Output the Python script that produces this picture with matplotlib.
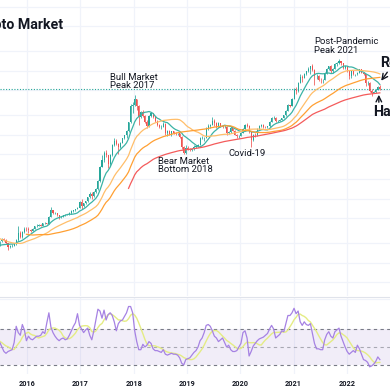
import numpy as np
import pandas as pd
import matplotlib
matplotlib.use("Agg")
import matplotlib.pyplot as plt
import matplotlib.dates as mdates
from matplotlib.ticker import NullLocator

plt.rcParams['font.family'] = ['Roboto', 'DejaVu Sans']

# ---------------- data: total crypto market cap, 2-week candles ($B) ----------------
START = '2014-02-03'
FIRST_OPEN = 10.5

close_2014 = [9.0, 9.2, 8.6, 6.5, 6.5, 6.2, 6.3, 8.3, 9.2, 8.4, 8.9, 8.8, 8.3, 6.9, 6.9, 6.8, 5.6, 5.7, 5.2, 5.4, 5.5, 5.5, 4.9, 4.1]
high_2014 = [10.8, 9.6, 9.4, 8.7, 6.9, 7.2, 6.6, 8.5, 9.5, 9.4, 9.1, 9.1, 8.8, 8.4, 7.2, 7.1, 6.9, 5.9, 5.8, 5.6, 6.4, 5.8, 5.6, 5.0]
low_2014 = [8.6, 7.6, 8.3, 6.3, 5.2, 5.9, 6.0, 6.2, 8.2, 8.2, 8.3, 8.6, 8.2, 6.6, 6.3, 6.6, 5.4, 4.9, 5.1, 5.0, 5.3, 5.4, 4.8, 4.0]

close_2015 = [3.2, 3.6, 3.5, 3.9, 4.2, 3.7, 3.4, 3.3, 3.6, 3.6, 3.5, 3.7, 4.3, 4.6, 4.5, 4.0, 3.5, 3.6, 3.7, 3.9, 4.5, 5.8, 5.1, 6.1, 6.8, 6.7]
high_2015 = [4.2, 3.8, 3.8, 4.0, 4.4, 4.3, 3.8, 3.6, 3.7, 3.8, 3.7, 3.8, 4.4, 4.8, 4.8, 4.6, 4.1, 3.8, 3.9, 4.0, 4.6, 7.6, 6.3, 6.2, 7.1, 7.2]
low_2015 = [2.6, 3.0, 3.3, 3.4, 3.8, 3.6, 3.3, 3.2, 3.2, 3.5, 3.4, 3.4, 3.7, 4.2, 4.3, 3.9, 3.2, 3.4, 3.5, 3.7, 3.8, 4.4, 4.8, 4.9, 5.9, 6.3]

close_2016 = [6.4, 6.3, 6.8, 7.4, 7.6, 7.7, 7.6, 8.3, 8.3, 8.1, 10.5, 13.2, 12.0, 12.0, 11.0, 10.3, 10.5, 11.0, 11.1, 11.3, 11.8, 12.8, 13.1, 13.7, 14.3, 18.0]
high_2016 = [7.3, 6.8, 6.9, 7.6, 8.0, 8.1, 7.9, 8.4, 8.6, 8.4, 10.8, 14.8, 13.4, 12.4, 12.1, 11.2, 10.7, 11.2, 11.3, 11.4, 12.2, 13.4, 13.5, 13.8, 14.6, 18.4]
low_2016 = [5.9, 6.0, 6.2, 6.7, 7.2, 7.4, 7.4, 7.5, 8.1, 7.9, 8.1, 10.4, 11.4, 11.5, 10.8, 9.6, 10.1, 10.4, 10.8, 11.0, 11.2, 11.7, 12.3, 12.9, 13.6, 14.2]

close_2017 = [15.3, 16.9, 18.2, 21.0, 23.3, 22.0, 25.5, 28.0, 38.0, 63.0, 80.0, 104, 96, 70, 95, 140, 160, 145, 130, 150, 175, 195, 225, 310, 550, 570]
high_2017 = [20.0, 17.2, 18.5, 21.5, 25.5, 25.0, 26.0, 29.0, 38.5, 65, 95, 112, 115, 96, 100, 145, 178, 172, 148, 152, 180, 200, 240, 320, 610, 640]
low_2017 = [13.8, 14.8, 16.5, 17.9, 20.5, 20.0, 21.0, 24.8, 27.5, 37.0, 62.0, 76, 88, 60, 65, 93, 135, 140, 100, 125, 146, 170, 180, 220, 305, 440]

close_2018 = [710, 560, 380, 450, 390, 320, 270, 390, 430, 380, 330, 280, 265, 265, 295, 215, 225, 205, 225, 215, 210, 210, 185, 130, 105, 125, 120]
high_2018 = [830, 720, 580, 470, 490, 410, 340, 400, 450, 440, 390, 340, 290, 285, 310, 300, 240, 240, 230, 230, 220, 215, 215, 190, 135, 140, 135]
low_2018 = [560, 480, 280, 360, 380, 300, 250, 260, 380, 370, 320, 270, 250, 245, 260, 200, 190, 195, 190, 205, 200, 200, 180, 120, 100, 100, 115]

close_2019 = [115, 118, 130, 132, 138, 175, 180, 180, 255, 270, 285, 330, 300, 265, 300, 270, 265, 265, 215, 220, 250, 230, 200, 190, 192, 215]
high_2019 = [125, 122, 138, 140, 142, 185, 190, 185, 260, 290, 295, 380, 345, 310, 320, 305, 280, 280, 270, 225, 270, 255, 235, 205, 200, 220]
low_2019 = [110, 112, 117, 125, 128, 136, 170, 160, 175, 235, 250, 280, 270, 255, 260, 260, 250, 255, 200, 205, 215, 225, 195, 180, 175, 187]

close_2020 = [245, 285, 275, 220, 165, 200, 195, 245, 270, 280, 265, 260, 270, 320, 360, 370, 325, 330, 340, 365, 400, 470, 580, 565, 730, 1000]
high_2020 = [250, 290, 305, 285, 225, 205, 215, 250, 285, 290, 290, 270, 275, 325, 375, 395, 380, 340, 350, 370, 410, 490, 600, 590, 740, 1080]
low_2020 = [210, 240, 265, 215, 130, 160, 185, 190, 235, 260, 255, 250, 255, 265, 315, 345, 310, 315, 325, 335, 360, 390, 460, 545, 550, 720]

close_2021 = [950, 1300, 1600, 1550, 1750, 1950, 2100, 2350, 2050, 1650, 1650, 1450, 1420, 1450, 1850, 2150, 2350, 1950, 2150, 2550, 2600, 2800, 2600, 2200, 2350, 1950]
high_2021 = [1100, 1320, 1750, 1700, 1850, 2000, 2250, 2400, 2550, 2100, 1750, 1700, 1550, 1490, 1900, 2200, 2400, 2450, 2200, 2600, 2750, 3000, 2850, 2650, 2380, 2400]
low_2021 = [870, 930, 1260, 1350, 1520, 1700, 1900, 1800, 1950, 1200, 1480, 1400, 1300, 1290, 1420, 1800, 2050, 1850, 1850, 2120, 2400, 2580, 2450, 2150, 2150, 1900]

close_2022 = [1650, 1950, 1750, 1750, 1850, 2100, 1850, 1750, 1300, 1300, 950, 900, 930, 1000, 1120, 1030]
high_2022 = [1980, 1970, 2000, 1800, 1880, 2150, 2150, 1870, 1800, 1380, 1330, 1050, 970, 1050, 1150, 1200]
low_2022 = [1500, 1550, 1700, 1620, 1700, 1820, 1820, 1700, 1150, 1180, 920, 800, 880, 900, 990, 1000]

# RSI, starting at candle index 34 (June 2015)
RSI_START = 34
rsi_2015 = [58, 56, 55, 50, 45, 43, 45, 46, 47, 55, 73, 66, 63, 75, 69, 57]
rsi_2016 = [62, 59, 58, 60, 62, 62, 63, 67, 65, 77, 88, 72, 66, 62, 59, 57, 59, 60, 58, 59, 63, 68, 73, 77, 87, 74]
rsi_2017 = [70, 66, 69, 71, 63, 58, 68, 80, 92, 90, 82, 91, 80, 86, 88, 85, 78, 68, 76, 79, 80, 84, 88, 95, 95, 88]
rsi_2018 = [68, 56, 47, 47, 53, 50, 52, 56, 54, 48, 46, 46, 45, 44, 47, 42, 41, 42, 43, 42, 42, 41, 38, 32, 30, 36, 37]
rsi_2019 = [38, 41, 44, 46, 50, 57, 60, 66, 74, 75, 73, 68, 62, 60, 56, 58, 60, 55, 50, 52, 47, 45, 45, 46, 50, 54]
rsi_2020 = [66, 68, 60, 40, 45, 51, 54, 57, 59, 60, 61, 63, 65, 70, 74, 70, 60, 62, 64, 68, 67, 76, 85, 85, 88, 93]
rsi_2021 = [87, 90, 78, 74, 78, 75, 74, 76, 65, 54, 48, 48, 47, 47, 58, 64, 67, 62, 60, 67, 69, 71, 62, 56, 50, 45]
rsi_2022 = [42, 44, 46, 44, 52, 48, 42, 36, 35, 33, 28, 29, 31, 34, 39, 36]

year_ticks = ['2016', '2017', '2018', '2019', '2020', '2021', '2022']
title_text = "Crypto Market"

# ---------------- assemble ----------------
closes = np.array(close_2014 + close_2015 + close_2016 + close_2017 + close_2018 +
                  close_2019 + close_2020 + close_2021 + close_2022, dtype=float)
highs = np.array(high_2014 + high_2015 + high_2016 + high_2017 + high_2018 +
                 high_2019 + high_2020 + high_2021 + high_2022, dtype=float)
lows = np.array(low_2014 + low_2015 + low_2016 + low_2017 + low_2018 +
                low_2019 + low_2020 + low_2021 + low_2022, dtype=float)
opens = np.concatenate([[FIRST_OPEN], closes[:-1]])
n = len(closes)
dates = pd.date_range(START, periods=n, freq='14D')
centers = mdates.date2num((dates + pd.Timedelta(days=7)).to_pydatetime())

rsi = np.array(rsi_2015 + rsi_2016 + rsi_2017 + rsi_2018 + rsi_2019 +
               rsi_2020 + rsi_2021 + rsi_2022, dtype=float)
rsi_x = centers[RSI_START:RSI_START + len(rsi)]
rsi_ma = pd.Series(rsi).rolling(7, min_periods=1).mean().values

close_s = pd.Series(closes)
ma_specs = [(10, '#3bb3a5'), (25, '#ffbe6a'), (50, '#ffa033'), (100, '#f45b5b')]

# ---------------- figure ----------------
W = H = 390.0
fig = plt.figure(figsize=(3.9, 3.9), dpi=100)
fig.patch.set_facecolor('white')

main_bottom = 296.0
rsi_top, rsi_bottom = 297.0, 374.0
ax = fig.add_axes([0, 1 - main_bottom / H, 1, main_bottom / H])
axr = fig.add_axes([0, 1 - rsi_bottom / H, 1, (rsi_bottom - rsi_top) / H], sharex=ax)

# x scale: 53.3 px per year, Jan 2016 at x=27 px
px_per_year = 53.3
jan2016 = mdates.date2num(pd.Timestamp('2016-01-01').to_pydatetime())
days_per_px = 365.25 / px_per_year
x0 = jan2016 - 27 * days_per_px
x1 = x0 + W * days_per_px

# y scale (log): y_px = 281.9 - 27.8 ln(P)
def price_at(ypx):
    return np.exp((281.9 - ypx) / 27.8)

ax.set_yscale('log')
ax.set_xlim(x0, x1)
ax.set_ylim(price_at(main_bottom), price_at(0))

grid_c = '#f0f3fa'
year_pos = [mdates.date2num(pd.Timestamp(y + '-01-01').to_pydatetime()) for y in year_ticks]
for a in (ax, axr):
    for s in a.spines.values():
        s.set_visible(False)
    a.set_facecolor('white')
    for xp in year_pos:
        a.axvline(xp, color=grid_c, lw=0.9, zorder=0)

grid_vals = [1, 2, 4, 10, 20, 40, 100, 200, 400, 1000, 2000, 4000, 10000, 20000]
for gv in grid_vals:
    ax.axhline(gv, color=grid_c, lw=0.9, zorder=0)
ax.yaxis.set_minor_locator(NullLocator())
ax.tick_params(left=False, labelleft=False, bottom=False, labelbottom=False)

# candles
up = closes >= opens
col = np.where(up, '#26a69a', '#ef5350')
ax.vlines(centers, lows, highs, colors=col, lw=0.55, zorder=3)
body_lo = np.minimum(opens, closes)
body_hi = np.maximum(opens, closes)
ax.bar(centers, body_hi - body_lo, bottom=body_lo, width=7.5, color=col,
       linewidth=0, zorder=4)

# moving averages
for per, c in ma_specs:
    ma = close_s.rolling(per).mean().values
    ax.plot(centers, ma, color=c, lw=0.9, zorder=5)

# last price line
ax.axhline(closes[-1], color='#26a69a', lw=0.8, ls=(0, (1, 1.5)), zorder=2)

# annotations
txt_c = '#131722'
def dn(s):
    return mdates.date2num(pd.Timestamp(s).to_pydatetime())

ax.text(dn('2017-07-23'), price_at(81.5), "Bull Market\nPeak 2017", fontsize=6.8,
        color=txt_c, ha='left', va='center', linespacing=1.0, zorder=6)
ax.text(dn('2018-06-17'), price_at(165.5), "Bear Market\nBottom 2018", fontsize=6.8,
        color=txt_c, ha='left', va='center', linespacing=1.0, zorder=6)
ax.text(dn('2020-02-17'), price_at(154), "Covid-19", fontsize=6.8,
        color=txt_c, ha='center', va='center', zorder=6)
ax.text(dn('2021-05-21'), price_at(46), "Post-Pandemic\nPeak 2021", fontsize=6.8,
        color=txt_c, ha='left', va='center', linespacing=1.0, zorder=6)

ax.text(63.5 / W, 1 - 25 / main_bottom, title_text, transform=ax.transAxes,
        fontsize=10.2, fontweight='bold', color=txt_c, ha='right', va='center')

ax.text(dn('2022-08-15'), price_at(63), "Resistance", fontsize=10.2, fontweight='bold',
        color=txt_c, ha='left', va='center', zorder=7)
ax.annotate('', xy=(dn('2022-08-13'), price_at(83)), xytext=(dn('2022-10-16'), price_at(70)),
            arrowprops=dict(arrowstyle='->', color=txt_c, lw=1.0), zorder=7)
ax.text(dn('2022-06-28'), price_at(112), "Handle", fontsize=10.2, fontweight='bold',
        color=txt_c, ha='left', va='center', zorder=7)
ax.annotate('', xy=(dn('2022-08-08'), price_at(92)), xytext=(dn('2022-08-08'), price_at(105)),
            arrowprops=dict(arrowstyle='->', color=txt_c, lw=1.0), zorder=7)

# ---------------- RSI pane ----------------
def rsi_at(ypx):
    return (392.0 - ypx) / 0.9

axr.set_ylim(rsi_at(rsi_bottom), rsi_at(rsi_top))
axr.axhspan(30, 70, color='#7e57c2', alpha=0.1, lw=0, zorder=1)
for lvl, al in ((70, 1.0), (50, 0.6), (30, 1.0)):
    axr.axhline(lvl, color='#787b86', lw=0.8, ls=(0, (3, 3)), alpha=al, zorder=2)
axr.axhline(rsi_at(rsi_top + 2), color=grid_c, lw=0.9, zorder=0)
axr.plot(rsi_x, rsi, color='#a682e3', lw=0.9, zorder=4)
axr.plot(rsi_x, rsi_ma, color='#e4ec84', lw=1.0, zorder=3)

axr.set_xticks(year_pos)
axr.set_xticklabels(year_ticks)
axr.tick_params(left=False, labelleft=False, bottom=False, length=0, pad=4,
                labelsize=5.2, labelcolor=txt_c)
for lab in axr.get_xticklabels():
    lab.set_fontweight('bold')
axr.set_yticks([])

# separator line between panes
fig.add_artist(plt.Line2D([0, 1], [1 - 296.5 / H, 1 - 296.5 / H], color='#e0e3eb', lw=0.8))

fig.savefig('out.png', dpi=100, facecolor='white')
